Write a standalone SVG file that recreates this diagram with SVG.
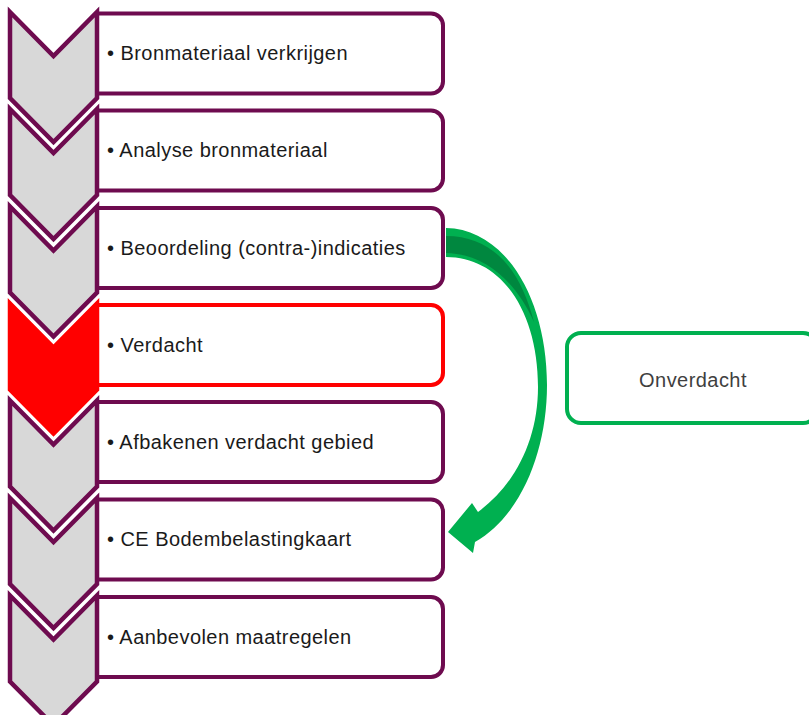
<svg xmlns="http://www.w3.org/2000/svg" xmlns:xlink="http://www.w3.org/1999/xlink" width="809" height="715" viewBox="0 0 809 715">
<style>
.box{fill:#ffffff;stroke:#6e0b4f;stroke-width:4;}
.box.red{stroke:#ff0000;}
.chev{fill:#d8d8d8;stroke:#6e0b4f;stroke-width:4.5;stroke-linejoin:miter;}
.chev.red{fill:#ff0000;stroke:#ff0000;}
.lbl{font-family:"Liberation Sans",Arial,sans-serif;font-size:20px;letter-spacing:0.45px;fill:#1a1a1a;}
.alt{fill:#ffffff;stroke:#00b050;stroke-width:4;}
.altlbl{font-family:"Liberation Sans",Arial,sans-serif;font-size:20px;letter-spacing:0.45px;fill:#3f3f3f;text-anchor:middle;}
</style>
<defs>
<path id="chevShape" d="M10,0 L53.5,44 L97,0 L97,86 L53.5,130 L10,86 Z"/>
<path id="boxShape" d="M97,1.5 H431 A12,12 0 0 1 443,13.5 V69.5 A12,12 0 0 1 431,81.5 H97 Z"/>
</defs>
<rect width="809" height="715" fill="#ffffff"/>
<g id="step1" transform="translate(0,12)">
<use xlink:href="#boxShape" class="box"/>
<use xlink:href="#chevShape" class="chev"/>
<text class="lbl" x="107" y="48">• Bronmateriaal verkrijgen</text>
</g>
<g id="step2" transform="translate(0,109)">
<use xlink:href="#boxShape" class="box"/>
<use xlink:href="#chevShape" class="chev"/>
<text class="lbl" x="107" y="48">• Analyse bronmateriaal</text>
</g>
<g id="step3" transform="translate(0,206.5)">
<use xlink:href="#boxShape" class="box"/>
<use xlink:href="#chevShape" class="chev"/>
<text class="lbl" x="107" y="48">• Beoordeling (contra-)indicaties</text>
</g>
<g id="step4" transform="translate(0,303.5)">
<use xlink:href="#boxShape" class="box red"/>
<use xlink:href="#chevShape" class="chev red"/>
<text class="lbl" x="107" y="48">• Verdacht</text>
</g>
<g id="step5" transform="translate(0,400.5)">
<use xlink:href="#boxShape" class="box"/>
<use xlink:href="#chevShape" class="chev"/>
<text class="lbl" x="107" y="48">• Afbakenen verdacht gebied</text>
</g>
<g id="step6" transform="translate(0,498)">
<use xlink:href="#boxShape" class="box"/>
<use xlink:href="#chevShape" class="chev"/>
<text class="lbl" x="107" y="48">• CE Bodembelastingkaart</text>
</g>
<g id="step7" transform="translate(0,595.5)">
<use xlink:href="#boxShape" class="box"/>
<use xlink:href="#chevShape" class="chev"/>
<text class="lbl" x="107" y="48">• Aanbevolen maatregelen</text>
</g>
<g id="onverdacht">
<rect class="alt" x="567" y="333" width="250" height="90" rx="14" ry="14"/>
<text class="altlbl" x="693" y="387">Onverdacht</text>
</g>
<g id="connectors">
<path d="M446,228 C506,229 547,300 547,385 C547,450 522,515 475,542 L473,553 L448,532 L472,503 L478,512 C515,485 538,440 538,387 C538,312 502,257 446,257 Z" fill="#00b050"/>
<path d="M446,236 C492,236 520,268 534,322 C516,282 486,254 446,253 Z" fill="#00873f"/>
</g>
</svg>
